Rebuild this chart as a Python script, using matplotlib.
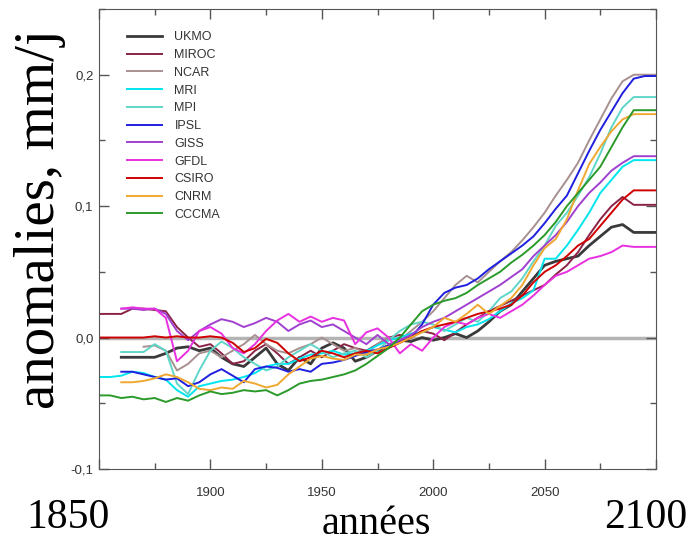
'''Precipitation anomaly projections, 11 climate models, 1850-2100'''
import numpy as np
import matplotlib
matplotlib.use('Agg')
import matplotlib.pyplot as plt
from matplotlib.ticker import MultipleLocator

nan = np.nan
YEARS = list(range(1850, 2101, 5))

# anomalies in 1e-3 mm/j, one value every 5 years from 1850 to 2100
UKMO = [nan, nan, -15, -15, -15, -15, -12, -8, -7, -10,
        -8, -15, -20, -22, -15, -8, -20, -25, -15, -20,
        -8, -4, -8, -18, -15, -10, -6, -2, -3, 0,
        -2, 0, 3, 0, 5, 12, 20, 25, 35, 45,
        55, 58, 60, 62, 70, 77, 84, 86, 80, 80, 80]
MIROC = [18, 18, 18, 22, 22, 21, 20, 8, 0, -7,
         -5, -12, -20, -18, -10, -5, -12, -20, -15, -10,
         -15, -10, -5, -8, -10, -5, 0, 2, 0, 5,
         3, -2, 4, 10, 15, 20, 24, 28, 32, 36,
         40, 48, 55, 65, 78, 90, 100, 107, 101, 101, 101]
NCAR = [nan, nan, nan, nan, -7, -6, -10, -25, -20, -12,
        -10, -15, -10, -5, 2, -5, -10, -12, -8, -5,
        0, -5, -10, -8, -12, -5, 0, -2, 5, 12,
        20, 30, 40, 47, 42, 50, 58, 65, 74, 84,
        95, 108, 120, 133, 150, 166, 182, 195, 200, 200, 200]
MRI = [-30, -30, -29, -26, -27, -30, -32, -40, -45, -37,
       -35, -33, -32, -30, -27, -22, -20, -20, -16, -13,
       -12, -10, -13, -12, -10, -6, -2, 0, 3, 4,
       8, 6, 4, 8, 10, 14, 20, 26, 30, 36,
       60, 60, 70, 82, 95, 110, 120, 130, 135, 135, 135]
MPI = [nan, nan, -11, -11, -11, -5, -10, -35, -43, -25,
       -10, -3, -8, -15, -20, -25, -22, -15, -10, -5,
       -10, -15, -12, -10, -15, -10, -2, 5, 10, 12,
       10, 5, 10, 15, 12, 20, 30, 35, 45, 58,
       70, 85, 95, 108, 122, 140, 160, 175, 183, 183, 183]
IPSL = [nan, nan, -26, -26, -28, -30, -32, -31, -37, -34,
        -28, -24, -29, -34, -24, -22, -23, -26, -24, -26,
        -20, -19, -17, -14, -11, -9, -6, -3, 0, 10,
        25, 34, 38, 40, 45, 52, 58, 64, 70, 77,
        87, 98, 108, 125, 142, 158, 172, 186, 197, 199, 199]
GISS = [nan, nan, 22, 22, 21, 22, 18, 5, -2, 5,
        10, 14, 12, 8, 11, 15, 12, 5, 10, 13,
        8, 10, 5, 0, -5, 2, -5, -2, 2, 8,
        12, 15, 20, 25, 30, 35, 40, 46, 52, 62,
        70, 78, 88, 100, 110, 118, 127, 133, 138, 138, 138]
GFDL = [nan, nan, 22, 23, 22, 22, 15, -18, -10, 5,
        8, 3, -8, -12, -5, 5, 13, 18, 12, 16,
        12, 15, 13, -5, 4, 7, 0, -12, -5, -10,
        0, 8, 12, 10, 15, 18, 15, 20, 25, 32,
        40, 47, 50, 55, 60, 62, 65, 70, 69, 69, 69]
CSIRO = [0, 0, 0, 0, 0, 1, 0, 1, 0, 0,
         1, 0, -4, -11, -8, -1, -4, -12, -18, -15,
         -10, -12, -15, -12, -10, -12, -8, -4, 0, 5,
         8, 10, 12, 15, 18, 20, 22, 25, 32, 42,
         50, 55, 62, 70, 75, 85, 95, 105, 112, 112, 112]
CNRM = [nan, nan, -34, -34, -33, -31, -28, -30, -34, -39,
        -40, -38, -39, -33, -35, -38, -36, -28, -22, -16,
        -14, -16, -17, -13, -13, -9, -7, -4, 0, 4,
        8, 15, 12, 18, 25, 18, 24, 30, 40, 55,
        68, 75, 90, 112, 132, 145, 157, 166, 170, 170, 170]
CCCMA = [-44, -44, -46, -45, -47, -46, -49, -46, -48, -44,
         -41, -43, -42, -40, -41, -40, -44, -40, -35, -33,
         -32, -30, -28, -25, -20, -14, -8, 0, 10, 20,
         25, 28, 30, 34, 40, 45, 50, 57, 63, 70,
         78, 88, 100, 110, 120, 130, 145, 160, 173, 173, 173]

MODELS = ['UKMO', 'MIROC', 'NCAR', 'MRI', 'MPI', 'IPSL', 'GISS', 'GFDL', 'CSIRO', 'CNRM', 'CCCMA']
SERIES = [UKMO, MIROC, NCAR, MRI, MPI, IPSL, GISS, GFDL, CSIRO, CNRM, CCCMA]
COLORS = ['#3a3a3a', '#8b2346', '#a89090', '#00e5ee', '#5fd6c8', '#1f1fe0',
          '#a040d0', '#e830e0', '#d00000', '#f0a830', '#2a9a2a']


def make_picture():
	fig = plt.figure(figsize=(6.93, 5.42), dpi=100)
	ax = fig.add_axes([99/693, 1-469/542, 557/693, 460/542])

	ax.axhline(0, color='#b4b4b4', lw=2.5, zorder=1)
	years = np.array(YEARS)
	for name, vals, col in zip(MODELS, SERIES, COLORS):
		lw = 2.0 if name == 'UKMO' else 1.4
		ax.plot(years, np.array(vals, dtype=float)/1000., color=col, lw=lw, label=name, zorder=2)

	ax.set_xlim(1850, 2100)
	ax.set_ylim(-0.1, 0.25)
	ax.set_xticks([1850, 1900, 1950, 2000, 2050, 2100])
	ax.set_xticklabels(['', '1900', '1950', '2000', '2050', ''])
	ax.set_yticks([-0.1, 0, 0.1, 0.2])
	ax.set_yticklabels(['-0,1', '0,0', '0,1', '0,2'])
	ax.xaxis.set_minor_locator(MultipleLocator(25))
	ax.yaxis.set_minor_locator(MultipleLocator(0.05))
	ax.tick_params(which='both', direction='in', top=True, right=True, color='#555555', width=1)
	ax.tick_params(which='major', length=7, labelsize=9.5, labelcolor='#333333')
	ax.tick_params(which='minor', length=4)
	ax.tick_params(axis='x', pad=13)
	ax.tick_params(axis='y', pad=4)
	for lab in ax.get_xticklabels() + ax.get_yticklabels():
		lab.set_family('Liberation Sans')
	for sp in ax.spines.values():
		sp.set_color('#555555')

	leg = ax.legend(loc='upper left', bbox_to_anchor=(0.03, 0.976), frameon=False,
			prop={'family': 'Liberation Sans', 'size': 9}, handlelength=2.8,
			handletextpad=1.0, labelspacing=0.46)
	for t in leg.get_texts():
		t.set_color('#333333')

	serif = 'Liberation Serif'
	fig.text(68/693, 1-528/542, '1850', family=serif, fontsize=30, ha='center', va='baseline')
	fig.text(646/693, 1-528/542, '2100', family=serif, fontsize=30, ha='center', va='baseline')
	fig.text(376/693, 1-534/542, 'années', family=serif, fontsize=29, ha='center', va='baseline')
	fig.text(40/693, 1-219/542, 'anomalies, mm/j', family=serif, fontsize=41, rotation=90,
		 ha='center', va='center')

	plt.savefig('out.png', dpi=100)
	plt.close()


if __name__ == '__main__':
	make_picture()
